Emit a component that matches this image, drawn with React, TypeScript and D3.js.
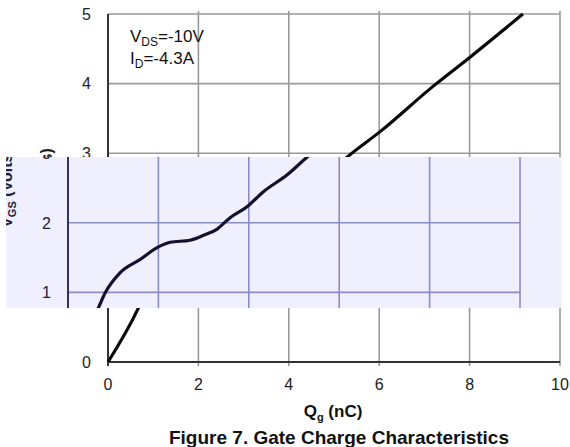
import React from "react";
import * as d3 from "d3";

const qg = [0, 0.66, 0.82, 1.15, 1.59, 1.99, 2.26, 2.7, 3.0, 3.3, 3.58, 3.96, 4.31, 4.85, 5.3, 6.02, 7.19, 8.01, 9.18];
const vgs = [0, 0.76, 0.99, 1.28, 1.47, 1.65, 1.72, 1.75, 1.82, 1.91, 2.07, 2.23, 2.44, 2.69, 2.95, 3.31, 3.96, 4.38, 5.0];
const xTicks = [0, 2, 4, 6, 8, 10];
const yTicks = [0, 1, 2, 3, 4, 5];

const W = 570;
const H = 447;
const FONT = "'Liberation Sans', Arial, sans-serif";

const x = d3.scaleLinear().domain([0, 10]).range([108, 560]);
const y = d3.scaleLinear().domain([0, 5]).range([362, 14]);

type Theme = { grid: string; axis: string; curve: string; text: string };
const mainTheme: Theme = { grid: "#9a9a9a", axis: "#333333", curve: "#0a0a0a", text: "#222222" };
const bandTheme: Theme = { grid: "#8c8cc4", axis: "#33335f", curve: "#12122e", text: "#22223a" };

const pts: [number, number][] = qg.map((q, i) => [q, vgs[i]]);
const lineGen = d3
  .line<[number, number]>()
  .x((d) => x(d[0]))
  .y((d) => y(d[1]))
  .curve(d3.curveMonotoneX);

function Layer({ dx, theme }: { dx: number; theme: Theme }) {
  const [x0, x1] = x.range();
  const [y0, y1] = y.range();
  return (
    <g transform={`translate(${dx},0)`}>
      {xTicks.slice(1).map((t) => (
        <line key={"vx" + t} x1={x(t)} x2={x(t)} y1={y0 + 4} y2={y1 - 3} stroke={theme.grid} strokeWidth={1.6} />
      ))}
      {yTicks.slice(1).map((t) => (
        <line key={"hy" + t} x1={x0} x2={x1} y1={y(t)} y2={y(t)} stroke={theme.grid} strokeWidth={1.6} />
      ))}
      <line x1={x0} x2={x0} y1={y1} y2={y0 + 4} stroke={theme.axis} strokeWidth={2} />
      <line x1={x0} x2={x1} y1={y0} y2={y0} stroke={theme.axis} strokeWidth={2} />
      <path d={lineGen(pts) || ""} fill="none" stroke={theme.curve} strokeWidth={3.2} strokeLinejoin="round" />
      {yTicks.map((t) => (
        <text key={"yl" + t} x={91} y={y(t)} dy="0.36em" textAnchor="end" fontSize={16} fontFamily={FONT} fill={theme.text}>
          {t}
        </text>
      ))}
      {xTicks.map((t) => (
        <text key={"xl" + t} x={x(t)} y={390} textAnchor="middle" fontSize={16} fontFamily={FONT} fill={theme.text}>
          {t}
        </text>
      ))}
      <text
        transform={`translate(52,188) rotate(-90)`}
        textAnchor="middle"
        fontSize={16}
        fontWeight="bold"
        fontFamily={FONT}
        fill={theme.text}
      >
        V<tspan fontSize={11} dy={4}>GS</tspan>
        <tspan dy={-4}> (Volts)</tspan>
      </text>
    </g>
  );
}

export default function App() {
  return (
    <svg width={W} height={H} style={{ position: "absolute", left: 0, top: 0, background: "#ffffff" }}>
      <defs>
        <clipPath id="band">
          <rect x={6} y={157} width={556} height={151} />
        </clipPath>
      </defs>
      <rect x={0} y={0} width={W} height={H} fill="#ffffff" />
      <Layer dx={0} theme={mainTheme} />
      <text x={130} y={42} fontSize={17} fontFamily={FONT} fill="#111">
        V<tspan fontSize={12} dy={4}>DS</tspan>
        <tspan dy={-4}>=-10V</tspan>
      </text>
      <text x={130} y={64} fontSize={17} fontFamily={FONT} fill="#111">
        I<tspan fontSize={12} dy={4}>D</tspan>
        <tspan dy={-4}>=-4.3A</tspan>
      </text>
      <text x={333} y={417} textAnchor="middle" fontSize={17} fontWeight="bold" fontFamily={FONT} fill="#111">
        Q<tspan fontSize={11} dy={4}>g</tspan>
        <tspan dy={-4}> (nC)</tspan>
      </text>
      <text x={339} y={444} textAnchor="middle" fontSize={19} fontWeight="bold" fontFamily={FONT} fill="#111">
        Figure 7. Gate Charge Characteristics
      </text>
      <g clipPath="url(#band)">
        <rect x={6} y={157} width={556} height={151} fill="#efeffd" />
        <Layer dx={-40} theme={bandTheme} />
      </g>
    </svg>
  );
}
